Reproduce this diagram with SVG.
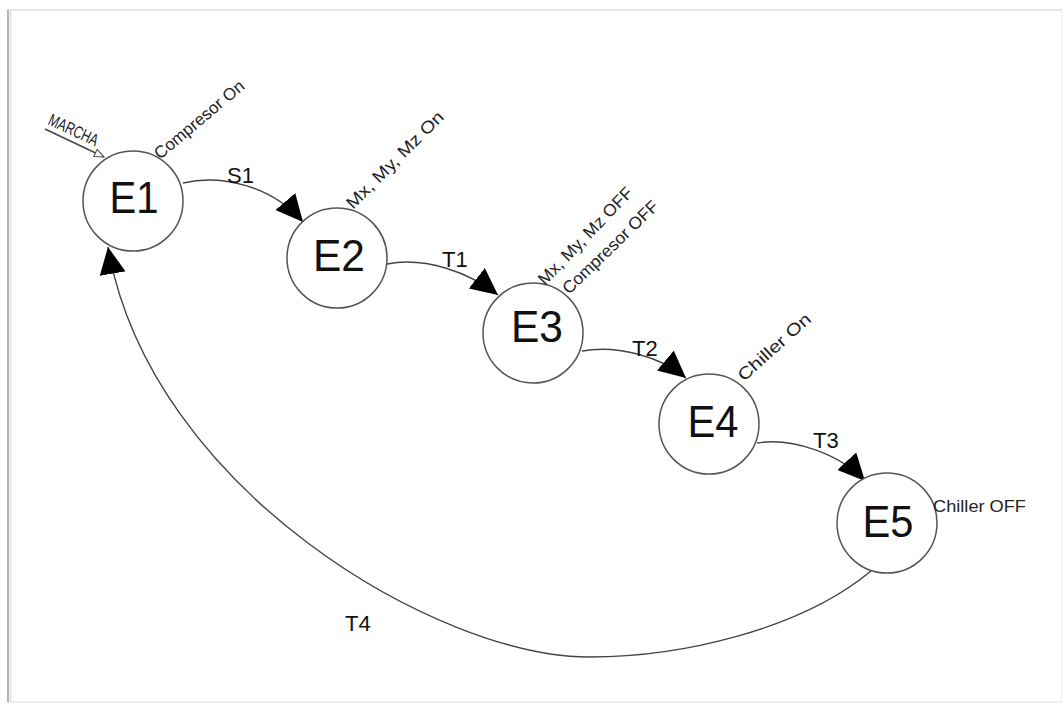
<svg xmlns="http://www.w3.org/2000/svg" width="1064" height="704" viewBox="0 0 1064 704">
  <style>
    .node circle { fill: #ffffff; stroke: #555555; stroke-width: 1.5; }
    .node .name { font-family: "Liberation Sans", Arial, sans-serif; font-size: 45px; fill: #111111; text-anchor: middle; }
    .ann { font-family: "Liberation Sans", Arial, sans-serif; font-size: 17px; fill: #222222; }
    .tl { font-family: "Liberation Sans", Arial, sans-serif; font-size: 22px; fill: #111111; }
    .edge { fill: none; stroke: #444444; stroke-width: 1.4; }
  </style>
  <defs>
    <marker id="arr" markerUnits="userSpaceOnUse" markerWidth="28" markerHeight="26" viewBox="0 0 28 26" refX="27" refY="13" orient="auto">
      <path d="M0,0 L27,13 L0,26 Z" fill="#000000"/>
    </marker>
    <marker id="open" markerUnits="userSpaceOnUse" markerWidth="12" markerHeight="10" viewBox="0 0 12 10" refX="10.5" refY="5" orient="auto">
      <path d="M1,1 L10.5,5 L1,9 Z" fill="#ffffff" stroke="#444444" stroke-width="1"/>
    </marker>
  </defs>

  <rect x="0" y="0" width="1064" height="704" fill="#ffffff"/>
  <g id="frame">
    <line x1="7" y1="10" x2="1062" y2="10" stroke="#e6e6e6" stroke-width="2"/>
    <line x1="7" y1="702" x2="1062" y2="702" stroke="#ececec" stroke-width="2"/>
    <line x1="1062" y1="10" x2="1062" y2="702" stroke="#f0f0f0" stroke-width="1.5"/>
    <line x1="10.5" y1="11" x2="10.5" y2="702" stroke="#e4e4e4" stroke-width="2"/>
    <line x1="8" y1="10" x2="8" y2="702" stroke="#b4b4b4" stroke-width="2"/>
  </g>

  <g id="connectors">
    <path id="marcha" class="edge" d="M45,129 L104,157" stroke-width="1.1" marker-end="url(#open)"/>
    <path id="s1" class="edge" d="M183,183 C222,174 272,186 303,222" marker-end="url(#arr)"/>
    <path id="t1" class="edge" d="M387,264 C425,256 470,273 498,295" marker-end="url(#arr)"/>
    <path id="t2" class="edge" d="M582,351 C617,345 660,356 686,378" marker-end="url(#arr)"/>
    <path id="t3" class="edge" d="M757,443 C792,437 840,454 865,481" marker-end="url(#arr)"/>
    <path id="t4" class="edge" d="M871,571 C800,630 680,657 590,657 C440,658 150,490 108,247" marker-end="url(#arr)"/>
    <text class="tl" x="227" y="183">S1</text>
    <text class="tl" x="442" y="267">T1</text>
    <text class="tl" x="632" y="356">T2</text>
    <text class="tl" x="813" y="448">T3</text>
    <text class="tl" x="345" y="631">T4</text>
    <text class="ann" font-size="11" transform="translate(47,124) rotate(25)" textLength="53" lengthAdjust="spacingAndGlyphs">MARCHA</text>
  </g>

  <g id="E1" class="node">
    <circle cx="133" cy="201" r="50"/>
    <text class="name" x="134" y="213" textLength="49" lengthAdjust="spacingAndGlyphs">E1</text>
    <text class="ann" transform="translate(160,160) rotate(-40)" textLength="112" lengthAdjust="spacingAndGlyphs">Compresor On</text>
  </g>
  <g id="E2" class="node">
    <circle cx="337" cy="258" r="50"/>
    <text class="name" x="339" y="271" textLength="52" lengthAdjust="spacingAndGlyphs">E2</text>
    <text class="ann" transform="translate(353,210) rotate(-45)" textLength="130" lengthAdjust="spacingAndGlyphs">Mx, My, Mz On</text>
  </g>
  <g id="E3" class="node">
    <circle cx="533" cy="333" r="50"/>
    <text class="name" x="537" y="342" textLength="52" lengthAdjust="spacingAndGlyphs">E3</text>
    <text class="ann" transform="translate(545,286) rotate(-46)" textLength="128" lengthAdjust="spacingAndGlyphs">Mx, My, Mz OFF</text>
    <text class="ann" transform="translate(569,295) rotate(-44)" textLength="126" lengthAdjust="spacingAndGlyphs">Compresor OFF</text>
  </g>
  <g id="E4" class="node">
    <circle cx="709" cy="424" r="50"/>
    <text class="name" x="713" y="437" textLength="51" lengthAdjust="spacingAndGlyphs">E4</text>
    <text class="ann" transform="translate(744,382) rotate(-42)" textLength="92" lengthAdjust="spacingAndGlyphs">Chiller On</text>
  </g>
  <g id="E5" class="node">
    <circle cx="887" cy="523" r="50"/>
    <text class="name" x="888" y="537" textLength="51" lengthAdjust="spacingAndGlyphs">E5</text>
    <text class="ann" x="933" y="512" textLength="93" lengthAdjust="spacingAndGlyphs">Chiller OFF</text>
  </g>
</svg>
